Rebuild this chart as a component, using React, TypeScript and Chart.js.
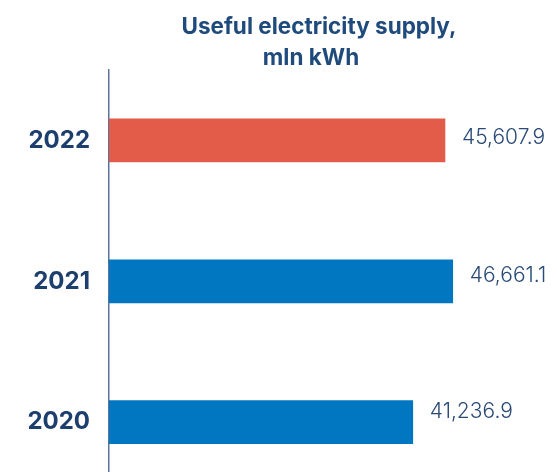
import React, { useEffect, useRef } from "react";
import { Chart, registerables } from "chart.js";

Chart.register(...registerables);

const titleLines = ["Useful electricity supply,", "mln kWh"];
const categories = ["2022", "2021", "2020"];
const values = [45607.9, 46661.1, 41236.9];
const barColors = ["#E35C4A", "#0077C0", "#0077C0"];
const valueLabels = ["45,607.9", "46,661.1", "41,236.9"];

const FONT = "Inter, 'Noto Sans', sans-serif";

const overlayPlugin = {
  id: "overlay",
  afterDatasetsDraw(chart: any) {
    const ctx = chart.ctx;
    ctx.save();
    // title
    ctx.fillStyle = "#1F4A7C";
    ctx.font = `bold 22.5px ${FONT}`;
    ctx.textAlign = "center";
    ctx.textBaseline = "alphabetic";
    ctx.fillText(titleLines[0], 319, 34);
    ctx.fillText(titleLines[1], 311, 65);
    // value labels
    const nudges = [-3, -6, -10];
    const meta = chart.getDatasetMeta(0);
    ctx.font = `300 21px ${FONT}`;
    ctx.fillStyle = "#2A4A78";
    ctx.textAlign = "left";
    ctx.textBaseline = "middle";
    meta.data.forEach((bar: any, i: number) => {
      ctx.fillText(valueLabels[i], bar.x + 17, bar.y + nudges[i]);
    });
    ctx.restore();
  },
};

export default function App() {
  const ref = useRef<HTMLCanvasElement>(null);
  useEffect(() => {
    document.body.style.margin = "0";
    const chart = new Chart(ref.current!, {
      type: "bar",
      data: {
        labels: categories,
        datasets: [
          {
            data: values,
            backgroundColor: barColors,
            barThickness: 43,
          },
        ],
      },
      options: {
        indexAxis: "y",
        animation: false,
        responsive: false,
        maintainAspectRatio: false,
        layout: { padding: { top: 70, right: 6, left: 0, bottom: 0 } },
        plugins: {
          legend: { display: false },
          title: { display: false },
          tooltip: { enabled: false },
        },
        scales: {
          x: { display: false, min: 0, max: 60000 },
          y: {
            grid: { display: false, drawTicks: false },
            border: { display: true, color: "#5B7399", width: 1.5 },
            ticks: {
              padding: 19,
              color: "#1D3F6E",
              font: { family: FONT, weight: "bold", size: 24 },
            },
            afterFit(scale: any) {
              scale.width = 109;
            },
          },
        },
      },
      plugins: [overlayPlugin],
    });
    return () => chart.destroy();
  }, []);
  return (
    <div style={{ width: 557, height: 472, overflow: "hidden" }}>
      <canvas ref={ref} width={557} height={526} style={{ display: "block" }} />
    </div>
  );
}
